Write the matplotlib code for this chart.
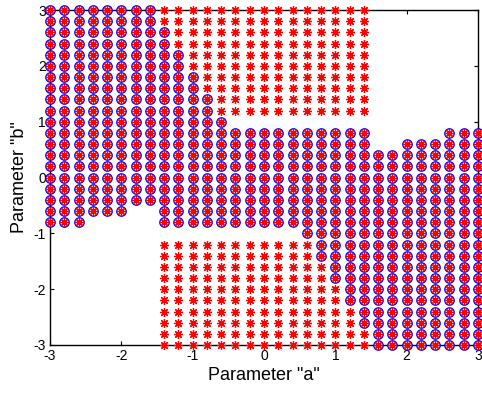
import numpy as np
import matplotlib
matplotlib.use("Agg")
import matplotlib.pyplot as plt

plt.rcParams['font.family'] = ['Liberation Sans', 'DejaVu Sans']
plt.rcParams['axes.unicode_minus'] = False

# Grid spacing of the sampled parameter plane
step = 0.2

# Row values of parameter "b"
rows_b = [3.0, 2.8, 2.6, 2.4, 2.2, 2.0, 1.8, 1.6, 1.4, 1.2, 1.0, 0.8, 0.6, 0.4, 0.2,
          0.0, -0.2, -0.4, -0.6, -0.8, -1.0, -1.2, -1.4, -1.6, -1.8, -2.0, -2.2,
          -2.4, -2.6, -2.8, -3.0]

# Per row: runs of "a" (start, end) marked with blue circles (also carry a red asterisk)
circle_runs = [
    [(-3.0, -1.6)], [(-3.0, -1.6)],
    [(-3.0, -1.4)], [(-3.0, -1.4)],
    [(-3.0, -1.2)], [(-3.0, -1.2)],
    [(-3.0, -1.0)], [(-3.0, -1.0)],
    [(-3.0, -0.8)], [(-3.0, -0.8)],
    [(-3.0, -0.6)],
    [(-3.0, 1.4), (2.6, 3.0)],
    [(-3.0, 1.4), (2.0, 3.0)],
    [(-3.0, 3.0)], [(-3.0, 3.0)], [(-3.0, 3.0)], [(-3.0, 3.0)], [(-3.0, 3.0)],
    [(-3.0, -2.0), (-1.4, 3.0)],
    [(-3.0, -2.6), (-1.4, 3.0)],
    [(0.6, 3.0)],
    [(0.8, 3.0)], [(0.8, 3.0)],
    [(1.0, 3.0)], [(1.0, 3.0)],
    [(1.2, 3.0)], [(1.2, 3.0)],
    [(1.4, 3.0)], [(1.4, 3.0)],
    [(1.6, 3.0)], [(1.6, 3.0)],
]

# Per row: runs of "a" marked with a red asterisk only
star_runs = [
    [(-1.4, 1.4)], [(-1.4, 1.4)],
    [(-1.2, 1.4)], [(-1.2, 1.4)],
    [(-1.0, 1.4)], [(-1.0, 1.4)],
    [(-0.8, 1.4)], [(-0.8, 1.4)],
    [(-0.6, 1.4)], [(-0.6, 1.4)],
    [], [], [], [], [], [], [], [], [], [], [],
    [(-1.4, 0.6)], [(-1.4, 0.6)],
    [(-1.4, 0.8)], [(-1.4, 0.8)],
    [(-1.4, 1.0)], [(-1.4, 1.0)],
    [(-1.4, 1.2)], [(-1.4, 1.2)],
    [(-1.4, 1.4)], [(-1.4, 1.4)],
]

xticks = [-3, -2, -1, 0, 1, 2, 3]
yticks = [-3, -2, -1, 0, 1, 2, 3]


def expand(runs_per_row):
    xs, ys = [], []
    for b, runs in zip(rows_b, runs_per_row):
        for a0, a1 in runs:
            n = int(round((a1 - a0) / step)) + 1
            for k in range(n):
                xs.append(round(a0 + k * step, 2))
                ys.append(b)
    return np.array(xs), np.array(ys)


cx, cy = expand(circle_runs)
sx, sy = expand(star_runs)
ax_all = np.concatenate([cx, sx])
ay_all = np.concatenate([cy, sy])

fig = plt.figure(figsize=(4.82, 3.94), dpi=100)
ax = fig.add_axes([50 / 482, 49 / 394, 428 / 482, 335 / 394])

ax.plot(cx, cy, linestyle='none', marker='o', markersize=6.8, markerfacecolor='none',
        markeredgecolor='#0000ff', markeredgewidth=0.9, clip_on=False, zorder=3)
ax.plot(ax_all, ay_all, linestyle='none', marker=(8, 2, 0), markersize=6.5,
        markeredgecolor='#ff0000', markeredgewidth=0.9, clip_on=False, zorder=4)

ax.set_xlim(-3, 3)
ax.set_ylim(-3, 3)
ax.set_xticks(xticks)
ax.set_yticks(yticks)
ax.tick_params(direction='in', length=3, width=0.8, top=True, right=True,
               labelsize=10, pad=3)
for sp in ax.spines.values():
    sp.set_linewidth(1.0)

ax.set_xlabel('Parameter "a"', fontsize=13, labelpad=3)
ax.set_ylabel('Parameter "b"', fontsize=13, labelpad=4)

fig.savefig('out.png', dpi=100)
